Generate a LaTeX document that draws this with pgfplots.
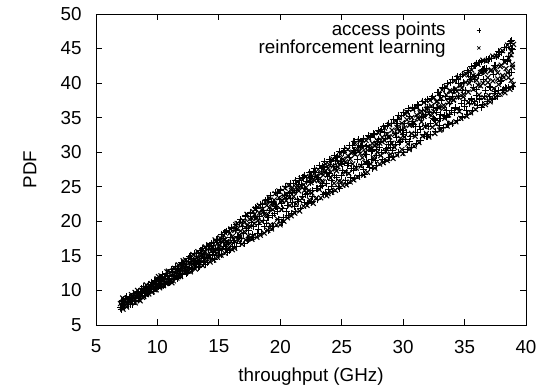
\documentclass[border=0pt]{standalone}
\usepackage{fontspec}
\setmainfont{Liberation Sans}
\usepackage{pgfplots}
\usepackage{pgfplotstable}
\pgfplotsset{compat=1.18}
\pgfplotstableread[row sep=\\]{
x y\\
7.0 7.6\\ 7.1 8.4\\ 7.3 7.9\\ 7.4 8.8\\ 7.6 8.2\\ 7.8 7.9\\ 7.9 9.0\\ 8.1 8.6\\ 8.3 9.3\\ 8.5 8.8\\
8.6 9.7\\ 8.8 9.2\\ 9.0 10.1\\ 9.2 9.6\\ 9.3 10.6\\ 9.5 10.2\\ 9.7 11.0\\ 9.9 10.5\\ 10.1 11.6\\ 10.2 10.9\\
10.4 11.8\\ 10.6 11.3\\ 10.8 12.2\\ 11.0 11.7\\ 11.2 12.6\\ 11.4 12.0\\ 11.6 13.1\\ 11.8 12.4\\ 12.0 13.7\\ 12.2 12.9\\
12.4 14.2\\ 12.6 13.3\\ 12.8 14.6\\ 13.0 13.7\\ 13.2 15.3\\ 13.4 14.2\\ 13.6 15.8\\ 13.8 14.6\\ 14.0 16.4\\ 14.2 15.1\\
14.4 16.8\\ 14.6 15.5\\ 14.8 17.2\\ 15.0 16.0\\ 15.2 18.1\\ 15.4 16.3\\ 15.6 18.6\\ 15.8 16.9\\ 16.0 19.0\\ 16.2 17.2\\
16.4 19.6\\ 16.6 17.6\\ 16.8 20.2\\ 17.0 18.3\\ 17.2 20.9\\ 17.4 18.7\\ 17.6 21.3\\ 17.8 19.3\\ 18.0 22.0\\ 18.2 19.6\\
18.4 22.5\\ 18.6 20.1\\ 18.8 23.0\\ 19.0 20.6\\ 19.2 23.8\\ 19.4 20.9\\ 19.6 24.2\\ 19.8 21.4\\ 20.0 24.6\\ 20.2 21.9\\
20.4 25.0\\ 20.6 22.3\\ 20.8 25.5\\ 21.0 22.7\\ 21.2 25.9\\ 21.4 23.2\\ 21.6 26.2\\ 21.8 23.6\\ 22.0 26.7\\ 22.2 24.0\\
22.4 27.1\\ 22.6 24.4\\ 22.8 27.6\\ 23.0 24.8\\ 23.2 28.1\\ 23.4 25.2\\ 23.6 28.6\\ 23.8 25.5\\ 24.0 29.0\\ 24.2 25.9\\
24.4 29.5\\ 24.6 26.3\\ 24.8 30.1\\ 25.0 26.7\\ 25.2 30.5\\ 25.4 27.1\\ 25.6 31.0\\ 25.8 27.6\\ 26.0 31.6\\ 26.2 28.0\\
26.4 31.8\\ 26.6 28.2\\ 26.8 32.0\\ 27.0 28.6\\ 27.2 32.4\\ 27.4 29.0\\ 27.6 32.7\\ 27.8 29.5\\ 28.0 33.2\\ 28.2 29.9\\
28.4 33.7\\ 28.6 30.3\\ 28.8 34.2\\ 29.0 30.7\\ 29.2 34.7\\ 29.4 31.1\\ 29.6 35.3\\ 29.8 31.5\\ 30.0 35.8\\ 30.2 31.9\\
30.4 36.3\\ 30.6 32.3\\ 30.8 36.5\\ 31.0 32.8\\ 31.2 36.9\\ 31.4 33.3\\ 31.6 37.4\\ 31.8 33.8\\ 32.0 37.6\\ 32.2 34.2\\
32.4 38.1\\ 32.6 34.6\\ 32.8 38.7\\ 33.0 34.9\\ 33.2 39.4\\ 33.4 35.3\\ 33.6 39.9\\ 33.8 35.5\\ 34.0 40.5\\ 34.2 35.8\\
34.4 40.9\\ 34.6 36.2\\ 34.8 41.3\\ 35.0 36.6\\ 35.2 41.8\\ 35.4 37.0\\ 35.6 42.4\\ 35.8 37.4\\ 36.0 42.9\\ 36.2 37.7\\
36.4 43.2\\ 36.6 38.0\\ 36.8 43.4\\ 37.0 38.1\\ 37.2 43.6\\ 37.4 38.5\\ 37.6 43.9\\ 37.8 39.0\\ 38.0 44.4\\ 38.2 39.1\\
38.4 45.2\\ 38.6 39.3\\ 38.7 45.7\\
20.1 22.6\\ 20.5 23.3\\ 21.0 24.2\\ 21.5 25.3\\ 22.0 24.8\\ 22.5 26.5\\ 23.0 26.3\\ 23.5 27.8\\ 24.0 26.9\\ 24.5 28.8\\
25.0 28.3\\ 25.5 28.1\\ 26.0 30.3\\ 26.5 30.9\\ 27.0 29.7\\ 27.5 30.2\\ 28.0 31.9\\ 28.5 32.9\\ 29.0 31.6\\ 29.5 34.2\\
30.0 32.6\\ 30.5 35.2\\ 31.0 33.7\\ 31.5 35.0\\ 32.0 36.5\\ 32.5 34.9\\ 33.0 38.2\\ 33.5 36.0\\ 34.0 38.1\\ 34.5 39.9\\
35.0 37.5\\ 35.5 41.0\\ 36.0 39.1\\ 36.5 41.9\\ 37.0 39.5\\ 37.5 42.6\\ 38.0 40.4\\ 38.5 43.2\\ 38.8 45.0\\ 38.8 41.6\\
37.8 44.6\\ 36.8 42.1\\ 35.8 40.5\\ 34.8 38.9\\ 33.8 37.7\\ 32.8 36.4\\ 31.8 35.5\\ 30.8 34.1\\ 29.8 33.3\\ 28.8 31.1\\
27.8 30.4\\
7.05 7.3\\ 7.14 8.5\\ 7.25 8.0\\ 7.34 7.5\\ 7.45 9.1\\ 7.54 8.2\\ 7.65 7.9\\ 7.74 9.0\\ 7.85 8.6\\ 7.94 8.0\\
8.05 9.5\\ 8.14 8.4\\ 8.25 8.5\\ 8.34 9.6\\ 8.45 9.9\\ 8.54 8.9\\ 8.65 9.2\\ 8.74 10.3\\ 8.85 10.6\\ 8.94 9.5\\
9.05 9.3\\ 9.14 10.4\\ 9.25 10.9\\ 9.34 9.9\\ 9.45 10.2\\ 9.54 11.2\\ 9.65 9.9\\ 9.74 11.5\\ 9.85 11.3\\ 9.94 10.3\\
10.05 10.6\\ 10.14 11.8\\ 10.25 11.4\\ 10.34 10.5\\ 10.45 12.3\\ 10.54 11.0\\ 10.65 10.9\\ 10.74 12.5\\ 10.85 12.0\\ 10.94 11.2\\
11.05 11.3\\ 11.14 13.0\\ 11.25 12.7\\ 11.34 11.6\\ 11.45 13.5\\ 11.54 12.2\\ 11.65 11.8\\ 11.74 13.2\\ 11.85 12.9\\ 11.94 14.0\\
12.05 12.3\\ 12.14 13.9\\ 12.25 13.5\\ 12.34 12.4\\ 12.45 12.6\\ 12.54 14.6\\ 12.65 14.9\\ 12.74 13.2\\ 12.85 13.0\\ 12.94 14.2\\
13.05 15.4\\ 13.14 13.9\\ 13.25 14.4\\ 13.34 13.3\\ 13.45 13.5\\ 13.54 15.8\\ 13.65 16.1\\ 13.74 14.1\\ 13.85 14.8\\ 13.94 13.8\\
14.05 14.0\\ 14.14 15.9\\ 14.25 16.5\\ 14.34 14.6\\ 14.45 15.2\\ 14.54 17.0\\ 14.65 14.5\\ 14.74 16.0\\ 14.85 17.4\\ 14.94 15.0\\
15.05 15.8\\ 15.14 16.9\\ 15.25 15.2\\ 15.34 17.5\\ 15.45 18.4\\ 15.54 16.0\\ 15.65 16.6\\ 15.74 15.5\\ 15.85 15.8\\ 15.94 17.7\\
16.05 19.1\\ 16.14 16.4\\ 16.25 17.0\\ 16.34 18.7\\ 16.45 16.3\\ 16.54 17.8\\ 16.65 19.9\\ 16.74 16.8\\ 16.85 17.5\\ 16.94 19.2\\
17.05 16.8\\ 17.14 20.7\\ 17.25 18.9\\ 17.34 17.2\\ 17.45 17.3\\ 17.54 21.2\\ 17.65 19.9\\ 17.74 18.1\\ 17.85 17.7\\ 17.94 20.7\\
18.05 21.9\\ 18.14 18.3\\ 18.25 18.8\\ 18.34 20.7\\ 18.45 18.2\\ 18.54 22.5\\ 18.65 21.5\\ 18.74 19.2\\ 18.85 19.7\\ 18.94 23.2\\
19.05 18.7\\ 19.14 21.5\\ 19.25 22.8\\ 19.34 19.3\\ 19.45 19.2\\ 19.54 21.1\\ 19.65 22.1\\ 19.74 24.1\\ 19.85 20.2\\ 19.94 23.2\\
20.05 24.5\\ 20.14 19.8\\ 20.25 20.5\\ 20.34 23.7\\ 20.45 25.1\\ 20.54 21.4\\ 20.65 20.8\\ 20.74 24.1\\ 20.85 23.3\\ 20.94 21.2\\
21.05 25.5\\ 21.14 22.1\\ 21.25 21.4\\ 21.34 24.5\\ 21.45 22.9\\ 21.54 25.9\\ 21.65 21.8\\ 21.74 25.3\\ 21.85 26.3\\ 21.94 22.7\\
22.05 23.9\\ 22.14 25.7\\ 22.25 22.6\\ 22.34 26.4\\ 22.45 25.6\\ 22.54 22.8\\ 22.65 23.6\\ 22.74 27.2\\ 22.85 27.1\\ 22.94 24.8\\
23.05 23.2\\ 23.14 26.0\\ 23.25 25.1\\ 23.34 27.7\\ 23.45 27.9\\ 23.54 23.9\\ 23.65 24.1\\ 23.74 27.0\\ 23.85 26.5\\ 23.94 24.6\\
24.05 28.6\\ 24.14 25.1\\ 24.25 24.3\\ 24.34 27.9\\ 24.45 26.7\\ 24.54 29.2\\ 24.65 29.4\\ 24.74 25.0\\ 24.85 24.8\\ 24.94 28.7\\
25.05 27.3\\ 25.14 30.0\\ 25.25 30.2\\ 25.34 25.9\\ 25.45 25.5\\ 25.54 28.4\\ 25.65 29.2\\ 25.74 26.4\\ 25.85 31.0\\ 25.94 27.3\\
26.05 26.2\\ 26.14 29.9\\ 26.25 28.9\\ 26.34 31.5\\ 26.45 26.6\\ 26.54 30.7\\ 26.65 31.6\\ 26.74 27.5\\ 26.85 26.8\\ 26.94 29.7\\
27.05 30.9\\ 27.14 28.3\\ 27.25 27.8\\ 27.34 32.2\\ 27.45 30.1\\ 27.54 27.6\\ 27.65 32.6\\ 27.74 28.8\\ 27.85 28.1\\ 27.94 31.6\\
28.05 30.7\\ 28.14 33.0\\ 28.25 33.3\\ 28.34 28.9\\ 28.45 28.6\\ 28.54 32.0\\ 28.65 30.5\\ 28.74 33.8\\ 28.85 29.2\\ 28.94 31.5\\
29.05 34.2\\ 29.14 30.2\\ 29.25 29.4\\ 29.34 32.7\\ 29.45 32.1\\ 29.54 34.7\\ 29.65 30.0\\ 29.74 31.4\\ 29.85 35.3\\ 29.94 33.2\\
30.05 29.9\\ 30.14 34.2\\ 30.25 32.9\\ 30.34 30.4\\ 30.45 36.0\\ 30.54 31.6\\ 30.65 30.7\\ 30.74 34.5\\ 30.85 34.0\\ 30.94 36.3\\
31.05 31.2\\ 31.14 32.9\\ 31.25 36.8\\ 31.34 33.7\\ 31.45 31.7\\ 31.54 36.1\\ 31.65 35.2\\ 31.74 32.6\\ 31.85 37.4\\ 31.94 32.3\\
32.05 33.7\\ 32.14 35.7\\ 32.25 32.5\\ 32.34 37.8\\ 32.45 36.5\\ 32.54 34.7\\ 32.65 33.0\\ 32.74 35.8\\ 32.85 38.6\\ 32.94 33.8\\
33.05 35.4\\ 33.14 37.5\\ 33.25 33.6\\ 33.34 39.2\\ 33.45 38.1\\ 33.54 35.1\\ 33.65 34.0\\ 33.74 37.1\\ 33.85 40.1\\ 33.94 36.0\\
34.05 34.2\\ 34.14 38.9\\ 34.25 36.4\\ 34.34 40.5\\ 34.45 34.6\\ 34.54 38.1\\ 34.65 40.9\\ 34.74 37.1\\ 34.85 35.1\\ 34.94 40.1\\
35.05 38.9\\ 35.14 36.1\\ 35.25 35.5\\ 35.34 41.6\\ 35.45 40.5\\ 35.54 37.7\\ 35.65 36.0\\ 35.74 39.3\\ 35.85 42.5\\ 35.94 38.2\\
36.05 36.8\\ 36.14 41.1\\ 36.25 43.0\\ 36.34 36.5\\ 36.45 36.9\\ 36.54 40.5\\ 36.65 42.1\\ 36.74 38.9\\ 36.85 37.3\\ 36.94 43.4\\
37.05 43.6\\ 37.14 39.4\\ 37.25 37.7\\ 37.34 41.2\\ 37.45 42.6\\ 37.54 38.8\\ 37.65 38.1\\ 37.74 44.2\\ 37.85 44.5\\ 37.94 40.3\\
38.05 39.0\\ 38.14 43.4\\ 38.25 45.1\\ 38.34 39.4\\ 38.45 39.2\\ 38.54 43.9\\ 38.65 41.5\\ 38.74 46.0\\ 38.85 46.2\\ 38.94 39.5\\
38.9 44.8\\
}\tableA
\pgfplotstableread[row sep=\\]{
x y\\
7.0 8.1\\ 7.2 7.3\\ 7.3 8.6\\ 7.5 8.0\\ 7.7 8.5\\ 7.9 8.3\\ 8.0 9.1\\ 8.2 8.2\\ 8.4 9.0\\ 8.6 8.5\\
8.7 9.4\\ 8.9 9.8\\ 9.1 9.4\\ 9.3 10.1\\ 9.4 9.9\\ 9.6 10.6\\ 9.8 10.1\\ 10.0 11.0\\ 10.3 10.6\\ 10.5 11.5\\
10.7 11.0\\ 10.9 11.9\\ 11.1 11.4\\ 11.3 12.3\\ 11.5 12.5\\ 11.7 12.0\\ 11.9 13.0\\ 12.1 13.2\\ 12.3 13.5\\ 12.5 12.8\\
12.7 14.0\\ 12.9 14.2\\ 13.1 14.5\\ 13.3 13.9\\ 13.5 15.0\\ 13.7 15.2\\ 13.9 15.6\\ 14.1 14.8\\ 14.3 16.0\\ 14.5 16.3\\
14.7 15.7\\ 14.9 16.8\\ 15.1 16.6\\ 15.3 17.2\\ 15.5 17.4\\ 15.7 17.0\\ 15.9 18.3\\ 16.1 17.8\\ 16.3 18.7\\ 16.5 18.9\\
16.7 18.0\\ 16.9 19.5\\ 17.1 19.9\\ 17.3 19.4\\ 17.5 20.3\\ 17.7 20.4\\ 17.9 21.0\\ 18.1 20.5\\ 18.3 21.2\\ 18.5 21.7\\
18.7 21.0\\ 18.9 22.3\\ 19.1 22.0\\ 19.3 22.6\\ 19.5 23.1\\ 19.7 22.2\\ 19.9 23.4\\ 20.1 23.0\\ 20.3 23.7\\ 20.5 24.0\\
20.7 23.4\\ 20.9 24.5\\ 21.1 24.2\\ 21.3 24.9\\ 21.5 24.4\\ 21.7 25.1\\ 21.9 25.3\\ 22.1 24.9\\ 22.3 25.8\\ 22.5 25.6\\
22.7 26.1\\ 22.9 26.5\\ 23.1 25.9\\ 23.3 26.9\\ 23.5 26.7\\ 23.7 27.3\\ 23.9 27.7\\ 24.1 27.1\\ 24.3 28.0\\ 24.5 27.6\\
24.7 28.5\\ 24.9 28.2\\ 25.1 29.0\\ 25.3 28.6\\ 25.5 29.5\\ 25.7 29.0\\ 25.9 30.0\\ 26.1 29.7\\ 26.3 30.4\\ 26.5 29.8\\
26.7 30.6\\ 26.9 30.0\\ 27.1 30.8\\ 27.3 30.5\\ 27.5 31.3\\ 27.7 30.9\\ 27.9 31.7\\ 28.1 31.3\\ 28.3 32.2\\ 28.5 31.7\\
28.7 32.6\\ 28.9 32.2\\ 29.1 33.2\\ 29.3 32.6\\ 29.5 33.6\\ 29.7 33.0\\ 29.9 34.2\\ 30.1 33.5\\ 30.3 34.7\\ 30.5 33.9\\
30.7 35.0\\ 30.9 34.3\\ 31.1 35.4\\ 31.3 34.8\\ 31.5 35.9\\ 31.7 35.2\\ 31.9 36.2\\ 32.1 35.6\\ 32.3 36.7\\ 32.5 35.9\\
32.7 37.3\\ 32.9 36.4\\ 33.1 37.8\\ 33.3 36.8\\ 33.5 38.3\\ 33.7 37.2\\ 33.9 38.8\\ 34.1 37.6\\ 34.3 39.2\\ 34.5 38.0\\
34.7 39.7\\ 34.9 38.4\\ 35.1 40.1\\ 35.3 38.7\\ 35.5 40.5\\ 35.7 39.1\\ 35.9 41.0\\ 36.1 39.7\\ 36.3 41.5\\ 36.5 40.0\\
36.7 41.6\\ 36.9 40.1\\ 37.1 41.8\\ 37.3 40.3\\ 37.5 42.1\\ 37.7 40.6\\ 37.9 42.4\\ 38.1 41.1\\ 38.3 43.0\\ 38.5 41.5\\
38.6 43.6\\ 38.8 40.4\\ 38.8 44.6\\ 38.9 42.3\\
7.09 7.8\\ 7.18 8.9\\ 7.29 8.7\\ 7.38 7.9\\ 7.49 7.6\\ 7.58 8.6\\ 7.69 8.8\\ 7.78 8.3\\ 7.89 9.4\\ 7.98 8.9\\
8.09 8.9\\ 8.18 9.7\\ 8.29 9.2\\ 8.38 10.0\\ 8.49 8.7\\ 8.58 9.5\\ 8.69 10.0\\ 8.78 9.0\\ 8.89 9.1\\ 8.98 10.2\\
9.09 10.8\\ 9.18 9.8\\ 9.29 9.5\\ 9.38 10.6\\ 9.49 11.0\\ 9.58 9.8\\ 9.69 10.5\\ 9.78 11.1\\ 9.89 10.1\\ 9.98 11.7\\
10.09 12.0\\ 10.18 10.4\\ 10.29 12.1\\ 10.38 11.0\\ 10.49 10.7\\ 10.58 11.8\\ 10.69 11.6\\ 10.78 12.7\\ 10.89 12.8\\ 10.98 11.5\\
11.09 12.2\\ 11.18 11.1\\ 11.29 11.4\\ 11.38 13.2\\ 11.49 12.9\\ 11.58 11.8\\ 11.69 13.7\\ 11.78 12.4\\ 11.89 12.0\\ 11.98 13.4\\
12.09 14.3\\ 12.18 12.8\\ 12.29 14.4\\ 12.38 12.9\\ 12.49 13.3\\ 12.58 14.0\\ 12.69 12.7\\ 12.78 14.4\\ 12.89 15.2\\ 12.98 13.7\\
13.09 13.1\\ 13.18 14.8\\ 13.29 15.6\\ 13.38 14.0\\ 13.49 14.6\\ 13.58 15.2\\ 13.69 13.6\\ 13.78 15.5\\ 13.89 16.3\\ 13.98 14.3\\
14.09 15.1\\ 14.18 16.6\\ 14.29 14.1\\ 14.38 15.7\\ 14.49 16.2\\ 14.58 14.4\\ 14.69 17.3\\ 14.78 15.3\\ 14.89 14.8\\ 14.98 16.4\\
15.09 17.6\\ 15.18 15.1\\ 15.29 16.2\\ 15.38 18.0\\ 15.49 15.4\\ 15.58 17.0\\ 15.69 18.5\\ 15.78 16.2\\ 15.89 16.9\\ 15.98 18.9\\
16.09 15.9\\ 16.18 17.4\\ 16.29 16.1\\ 16.38 19.5\\ 16.49 19.7\\ 16.58 17.2\\ 16.69 17.7\\ 16.78 18.6\\ 16.89 16.7\\ 16.98 20.1\\
17.09 18.5\\ 17.18 17.3\\ 17.29 21.0\\ 17.38 17.9\\ 17.49 19.3\\ 17.58 17.7\\ 17.69 17.4\\ 17.78 21.4\\ 17.89 19.7\\ 17.98 21.8\\
18.09 17.7\\ 18.18 20.1\\ 18.29 22.3\\ 18.38 18.0\\ 18.49 20.0\\ 18.58 21.3\\ 18.69 18.3\\ 18.78 22.8\\ 18.89 21.0\\ 18.98 18.7\\
19.09 23.4\\ 19.18 19.5\\ 19.29 18.9\\ 19.38 21.7\\ 19.49 22.5\\ 19.58 24.0\\ 19.69 19.5\\ 19.78 20.3\\ 19.89 24.4\\ 19.98 19.5\\
20.09 21.7\\ 20.18 23.0\\ 20.29 20.0\\ 20.38 24.8\\ 20.49 23.0\\ 20.58 20.5\\ 20.69 25.2\\ 20.78 22.3\\ 20.89 20.8\\ 20.98 24.9\\
21.09 23.6\\ 21.18 21.2\\ 21.29 22.5\\ 21.38 25.7\\ 21.49 24.9\\ 21.58 21.5\\ 21.69 26.2\\ 21.78 23.3\\ 21.89 22.2\\ 21.98 24.5\\
22.09 26.5\\ 22.18 22.3\\ 22.29 24.4\\ 22.38 23.1\\ 22.49 26.9\\ 22.58 24.1\\ 22.69 22.6\\ 22.78 25.9\\ 22.89 23.3\\ 22.98 26.6\\
23.09 27.5\\ 23.18 24.6\\ 23.29 23.4\\ 23.38 25.8\\ 23.49 25.7\\ 23.58 27.2\\ 23.69 28.3\\ 23.78 23.7\\ 23.89 24.0\\ 23.98 28.2\\
24.09 26.3\\ 24.18 24.2\\ 24.29 29.0\\ 24.38 25.5\\ 24.49 24.5\\ 24.58 27.3\\ 24.69 27.9\\ 24.78 25.8\\ 24.89 29.7\\ 24.98 25.7\\
25.09 25.2\\ 25.18 28.8\\ 25.29 27.1\\ 25.38 25.3\\ 25.49 30.4\\ 25.58 26.9\\ 25.69 25.7\\ 25.78 29.9\\ 25.89 28.3\\ 25.98 26.0\\
26.09 31.3\\ 26.18 27.7\\ 26.29 26.4\\ 26.38 30.2\\ 26.49 31.6\\ 26.58 28.0\\ 26.69 29.2\\ 26.78 26.7\\ 26.89 28.5\\ 26.98 31.7\\
27.09 27.1\\ 27.18 32.0\\ 27.29 30.6\\ 27.38 28.3\\ 27.49 32.4\\ 27.58 29.2\\ 27.69 27.7\\ 27.78 31.2\\ 27.89 30.0\\ 27.98 32.8\\
28.09 28.3\\ 28.18 29.5\\ 28.29 31.5\\ 28.38 28.5\\ 28.49 33.5\\ 28.58 30.1\\ 28.69 28.8\\ 28.78 32.2\\ 28.89 34.0\\ 28.98 29.7\\
29.09 31.3\\ 29.18 29.1\\ 29.29 30.7\\ 29.38 34.5\\ 29.49 29.6\\ 29.58 33.4\\ 29.69 35.0\\ 29.78 32.0\\ 29.89 30.4\\ 29.98 29.8\\
30.09 32.2\\ 30.18 35.5\\ 30.29 35.8\\ 30.38 31.2\\ 30.49 30.4\\ 30.58 34.0\\ 30.69 32.7\\ 30.78 36.2\\ 30.89 30.9\\ 30.98 32.3\\
31.09 36.5\\ 31.18 35.0\\ 31.29 31.4\\ 31.38 35.7\\ 31.49 34.4\\ 31.58 32.3\\ 31.69 37.2\\ 31.78 33.7\\ 31.89 32.7\\ 31.98 36.4\\
32.09 32.2\\ 32.18 37.5\\ 32.29 35.3\\ 32.38 33.6\\ 32.49 37.9\\ 32.58 32.7\\ 32.69 34.1\\ 32.78 37.4\\ 32.89 36.6\\ 32.98 33.2\\
33.09 33.3\\ 33.18 39.0\\ 33.29 36.4\\ 33.38 34.9\\ 33.49 39.5\\ 33.58 33.8\\ 33.69 35.4\\ 33.78 38.9\\ 33.89 34.2\\ 33.98 37.8\\
34.09 37.5\\ 34.18 40.3\\ 34.29 34.4\\ 34.38 38.8\\ 34.49 40.8\\ 34.58 35.9\\ 34.69 34.9\\ 34.78 39.3\\ 34.89 38.0\\ 34.98 41.2\\
35.09 41.4\\ 35.18 35.2\\ 35.29 37.2\\ 35.38 40.0\\ 35.49 35.7\\ 35.58 41.9\\ 35.69 41.1\\ 35.78 37.2\\ 35.89 36.2\\ 35.98 40.4\\
36.09 42.7\\ 36.18 38.3\\ 36.29 39.6\\ 36.38 41.6\\ 36.49 43.3\\ 36.58 37.9\\ 36.69 36.9\\ 36.78 43.2\\ 36.89 40.8\\ 36.98 38.2\\
37.09 37.3\\ 37.18 41.9\\ 37.29 43.9\\ 37.38 39.2\\ 37.49 38.0\\ 37.58 43.9\\ 37.69 41.5\\ 37.78 39.8\\ 37.89 38.4\\ 37.98 42.6\\
38.09 44.7\\ 38.18 40.8\\ 38.29 38.6\\ 38.38 42.1\\ 38.49 45.5\\ 38.58 40.8\\ 38.69 39.1\\ 38.78 44.1\\ 38.89 42.7\\ 38.98 45.6\\
38.95 39.8\\
}\tableB
\begin{document}
\fontsize{18.8}{22}\selectfont
\begin{tikzpicture}
\begin{axis}[
  scale only axis, width=430pt, height=311pt,
  xmin=5, xmax=40, ymin=5, ymax=50,
  xtick={5,10,...,40}, ytick={5,10,...,50},
  tick align=inside, major tick length=6pt,
  axis line style={line width=0.8pt},
  every tick/.style={black, line width=0.8pt},
  /pgf/number format/assume math mode=true,
  ticklabel style={font=\fontsize{18.8}{22}\selectfont},
  xticklabel style={yshift=-8.5pt},
  yticklabel style={xshift=-8pt},
  xlabel={throughput (GHz)}, ylabel={PDF},
  label style={font=\fontsize{18.8}{22}\selectfont},
  xlabel style={at={(axis description cs:0.5,-0.182)}, anchor=base},
  ylabel style={at={(axis description cs:-0.1535,0.5)}, anchor=center},
  legend plot pos=right,
  legend cell align=right,
  legend image post style={mark size=2.2pt, line width=0.7pt},
  legend style={draw=none, fill=none, at={(0.896,0.974)}, anchor=north east,
    inner sep=0pt, row sep=1pt, column sep=31pt, nodes={inner sep=0pt},
    font=\fontsize{18.8}{22}\selectfont},
]
\addplot[only marks, mark=+, mark size=3.5pt, black, line width=1.05pt] table {\tableA};
\addlegendentry{access points}
\addplot[only marks, mark=x, mark size=3.5pt, black, line width=1.05pt] table {\tableB};
\addlegendentry{reinforcement learning}
\end{axis}
\path (current axis.south west) ++(-96pt,-64pt) rectangle ++(551pt,389pt);
\end{tikzpicture}
\end{document}
